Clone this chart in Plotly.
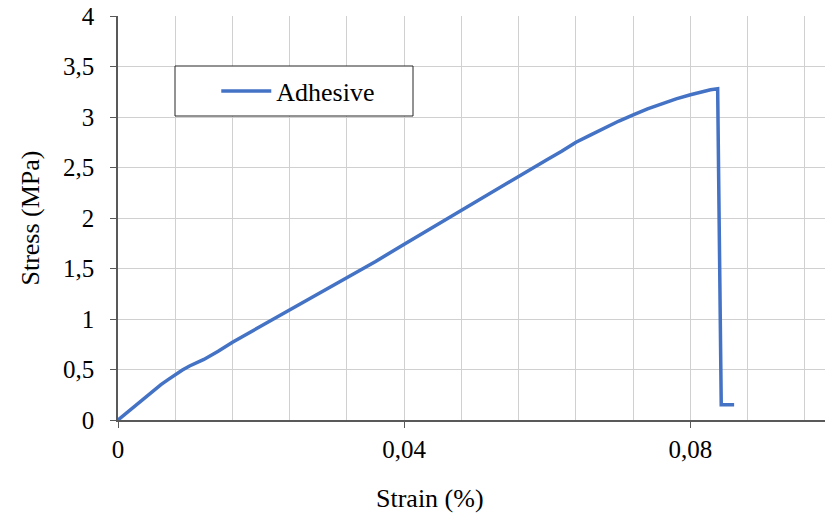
import plotly.graph_objects as go

strain = [0, 0.001, 0.002, 0.003, 0.004, 0.005, 0.006, 0.007, 0.008, 0.009, 0.010,
          0.011, 0.012, 0.014, 0.016,
          0.020, 0.024, 0.028, 0.032, 0.036, 0.040, 0.044, 0.048, 0.052, 0.056,
          0.058, 0.060, 0.062, 0.0638, 0.0640, 0.066, 0.068, 0.070, 0.072, 0.074,
          0.076, 0.078, 0.080, 0.0815, 0.0828, 0.0838, 0.0843, 0.0861]
stress = [0, 0.06, 0.12, 0.18, 0.24, 0.295, 0.35, 0.40, 0.45, 0.495, 0.535,
          0.57, 0.60, 0.68, 0.77,
          0.93, 1.09, 1.25, 1.41, 1.57, 1.74, 1.91, 2.08, 2.25, 2.42,
          2.50, 2.58, 2.66, 2.735, 2.75, 2.82, 2.89, 2.96, 3.02, 3.08,
          3.13, 3.18, 3.22, 3.25, 3.27, 3.28, 0.15, 0.15]

font_family = "Liberation Serif, Times New Roman, serif"

fig = go.Figure()
fig.add_trace(go.Scatter(
    x=strain, y=stress, mode="lines", name="Adhesive",
    line=dict(color="#4472C4", width=3.5),
))

fig.update_layout(
    width=825, height=518,
    margin=dict(l=118, r=0, t=16, b=98),
    paper_bgcolor="white", plot_bgcolor="white",
    separators=", ",
    font=dict(family=font_family, size=25, color="#000000"),
    showlegend=True,
    legend=dict(
        x=0.139, y=0.814, xanchor="left", yanchor="middle",
        bgcolor="rgba(0,0,0,0)", borderwidth=0,
        font=dict(family=font_family, size=26),
        itemwidth=50,
    ),
    shapes=[dict(
        type="rect", xref="paper", yref="paper",
        x0=(175 - 118) / 707, x1=(413 - 118) / 707,
        y0=(420 - 116) / 404, y1=(420 - 66) / 404,
        line=dict(color="#262626", width=1), fillcolor="white", layer="above",
    )],
    annotations=[dict(
        text="Strain (%)", xref="paper", yref="paper",
        x=(430 - 118) / 707, y=-(498 - 420) / 404,
        xanchor="center", yanchor="middle", showarrow=False,
        font=dict(family=font_family, size=26),
    )],
)

fig.update_xaxes(
    range=[0, 0.0988], dtick=0.04, tick0=0,
    showgrid=True, gridcolor="#D0D0D0", gridwidth=1,
    minor=dict(dtick=0.008, showgrid=True, gridcolor="#D0D0D0", gridwidth=1),
    showline=True, linecolor="#595959", linewidth=1.5,
    ticks="outside", ticklen=6, tickcolor="#595959",
    ticklabelstandoff=0,
    zeroline=False,
    tickfont=dict(size=25),
)
fig.update_yaxes(
    range=[0, 4], dtick=0.5, tick0=0,
    showgrid=True, gridcolor="#D0D0D0", gridwidth=1,
    showline=True, linecolor="#595959", linewidth=1.5,
    ticks="outside", ticklen=6, tickcolor="#595959",
    ticklabelstandoff=11,
    zeroline=False,
    title=dict(text="Stress (MPa)", standoff=16, font=dict(size=26)),
    tickfont=dict(size=25),
)

fig.write_html("out.html")
